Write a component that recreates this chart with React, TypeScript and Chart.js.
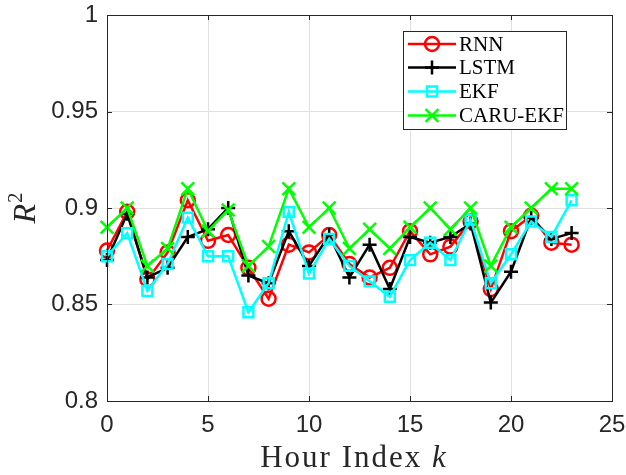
import React, { useEffect, useRef } from "react";
import { Chart, registerables } from "chart.js";

Chart.register(...registerables);

const hours = [0, 1, 2, 3, 4, 5, 6, 7, 8, 9, 10, 11, 12, 13, 14, 15, 16, 17, 18, 19, 20, 21, 22, 23];
const rnn = [0.878, 0.898, 0.863, 0.877, 0.904, 0.883, 0.886, 0.869, 0.853, 0.881, 0.877, 0.886, 0.871, 0.864, 0.869, 0.888, 0.876, 0.880, 0.893, 0.858, 0.888, 0.896, 0.882, 0.881];
const lstm = [0.873, 0.897, 0.864, 0.869, 0.885, 0.889, 0.900, 0.865, 0.861, 0.888, 0.870, 0.886, 0.864, 0.881, 0.858, 0.885, 0.882, 0.885, 0.892, 0.851, 0.867, 0.895, 0.884, 0.887];
const ekf = [0.875, 0.887, 0.857, 0.871, 0.895, 0.875, 0.875, 0.846, 0.861, 0.898, 0.866, 0.884, 0.870, 0.862, 0.854, 0.873, 0.882, 0.873, 0.894, 0.861, 0.876, 0.893, 0.885, 0.904];
const caru = [0.890, 0.900, 0.870, 0.879, 0.910, 0.888, 0.899, 0.870, 0.880, 0.910, 0.890, 0.900, 0.879, 0.889, 0.879, 0.890, 0.900, 0.889, 0.900, 0.870, 0.890, 0.900, 0.910, 0.910];

const seriesNames = ["RNN", "LSTM", "EKF", "CARU-EKF"];
const seriesColors = ["#ff0000", "#000000", "#00ffff", "#00ff00"];
const seriesStyles = ["circle", "cross", "rect", "crossRot"];
const seriesRadius = [7, 7, 7, 9];
const seriesValues = [rnn, lstm, ekf, caru];

const xTitle = "Hour Index ";
const xTitleVar = "k";
const yTitle = "R";
const yTitleSup = "2";

const AXIS = "#262626";
const SERIF = "'Liberation Serif', 'Times New Roman', serif";

function drawMarker(ctx: CanvasRenderingContext2D, style: string, x: number, y: number, color: string) {
  ctx.save();
  ctx.strokeStyle = color;
  ctx.lineWidth = 2.5;
  ctx.beginPath();
  if (style === "circle") {
    ctx.arc(x, y, 7, 0, Math.PI * 2);
  } else if (style === "cross") {
    ctx.moveTo(x - 7, y);
    ctx.lineTo(x + 7, y);
    ctx.moveTo(x, y - 7);
    ctx.lineTo(x, y + 7);
  } else if (style === "rect") {
    ctx.rect(x - 5, y - 5, 10, 10);
  } else {
    const d = 6.4;
    ctx.moveTo(x - d, y - d);
    ctx.lineTo(x + d, y + d);
    ctx.moveTo(x + d, y - d);
    ctx.lineTo(x - d, y + d);
  }
  ctx.stroke();
  ctx.restore();
}

const decorPlugin = {
  id: "decor",
  afterDraw(chart: any) {
    const ctx: CanvasRenderingContext2D = chart.ctx;
    const a = chart.chartArea;
    const xs = chart.scales.x;
    const ys = chart.scales.y;
    ctx.save();
    // box
    ctx.strokeStyle = AXIS;
    ctx.lineWidth = 1;
    ctx.strokeRect(Math.round(a.left) + 0.5, Math.round(a.top) + 0.5, Math.round(a.right - a.left), Math.round(a.bottom - a.top));
    // inward ticks
    const tl = 5;
    ctx.beginPath();
    xs.ticks.forEach((t: any) => {
      const px = Math.round(xs.getPixelForValue(t.value)) + 0.5;
      ctx.moveTo(px, a.bottom);
      ctx.lineTo(px, a.bottom - tl);
      ctx.moveTo(px, a.top);
      ctx.lineTo(px, a.top + tl);
    });
    ys.ticks.forEach((t: any) => {
      const py = Math.round(ys.getPixelForValue(t.value)) + 0.5;
      ctx.moveTo(a.left, py);
      ctx.lineTo(a.left + tl, py);
      ctx.moveTo(a.right, py);
      ctx.lineTo(a.right - tl, py);
    });
    ctx.stroke();

    // legend
    const lx = 403.5, ly = 31.5, lw = 163, lh = 98;
    ctx.fillStyle = "#ffffff";
    ctx.fillRect(lx, ly, lw, lh);
    ctx.strokeStyle = AXIS;
    ctx.lineWidth = 1;
    ctx.strokeRect(lx, ly, lw, lh);
    const rowY = [44, 67.5, 91.5, 115.5];
    seriesNames.forEach((name, i) => {
      const y = rowY[i];
      ctx.strokeStyle = seriesColors[i];
      ctx.lineWidth = 2.5;
      ctx.beginPath();
      ctx.moveTo(408, y);
      ctx.lineTo(456, y);
      ctx.stroke();
      drawMarker(ctx, seriesStyles[i], 432, y, seriesColors[i]);
      ctx.fillStyle = "#000000";
      ctx.font = `21px ${SERIF}`;
      ctx.textAlign = "left";
      ctx.textBaseline = "middle";
      ctx.fillText(name, 459, y + 1);
    });

    // x title
    ctx.fillStyle = "#262626";
    ctx.textBaseline = "alphabetic";
    ctx.textAlign = "left";
    (ctx as any).letterSpacing = "2px";
    ctx.font = `31px ${SERIF}`;
    const w1 = ctx.measureText(xTitle).width;
    ctx.font = `italic 31px ${SERIF}`;
    const w2 = ctx.measureText(xTitleVar).width;
    const cx = 354;
    const start = cx - (w1 + w2) / 2;
    ctx.font = `31px ${SERIF}`;
    ctx.fillText(xTitle, start, 467);
    ctx.font = `italic 31px ${SERIF}`;
    ctx.fillText(xTitleVar, start + w1, 467);
    (ctx as any).letterSpacing = "0px";

    // y title
    ctx.translate(35, 208);
    ctx.rotate(-Math.PI / 2);
    ctx.font = `italic 32px ${SERIF}`;
    const rw = ctx.measureText(yTitle).width;
    ctx.font = `21px ${SERIF}`;
    const sw = ctx.measureText(yTitleSup).width;
    const s0 = -(rw + sw + 1) / 2;
    ctx.font = `italic 32px ${SERIF}`;
    ctx.fillText(yTitle, s0, 0);
    ctx.font = `21px ${SERIF}`;
    ctx.fillText(yTitleSup, s0 + rw + 1, -13);
    ctx.restore();
  },
};

export default function App() {
  const ref = useRef<HTMLCanvasElement | null>(null);
  useEffect(() => {
    if (!ref.current) return;
    const chart = new Chart(ref.current, {
      type: "line",
      data: {
        datasets: seriesValues.map((vals, i) => ({
          label: seriesNames[i],
          data: vals.map((v, j) => ({ x: hours[j], y: v })),
          borderColor: seriesColors[i],
          backgroundColor: "rgba(0,0,0,0)",
          borderWidth: 2.5,
          pointStyle: seriesStyles[i] as any,
          pointRadius: seriesRadius[i],
          pointBorderWidth: 2.5,
          pointBorderColor: seriesColors[i],
          pointBackgroundColor: "rgba(0,0,0,0)",
          tension: 0,
          clip: false as any,
          order: 4 - i,
        })),
      },
      options: {
        animation: false,
        responsive: false,
        maintainAspectRatio: false,
        layout: { padding: { top: 15, right: 14, left: 0, bottom: 0 } },
        plugins: { legend: { display: false }, tooltip: { enabled: false } },
        scales: {
          x: {
            type: "linear",
            min: 0,
            max: 25,
            afterFit: (s: any) => { s.height = 74; s.paddingLeft = 0; s.paddingRight = 0; },
            ticks: {
              stepSize: 5,
              color: AXIS,
              padding: 10,
              font: { family: "'Liberation Sans', Arial, sans-serif", size: 24 },
            },
            grid: { color: "#e0e0e0", drawTicks: false },
            border: { display: false },
          },
          y: {
            type: "linear",
            min: 0.8,
            max: 1,
            afterFit: (s: any) => { s.width = 107; s.paddingTop = 0; s.paddingBottom = 0; },
            ticks: {
              stepSize: 0.05,
              color: AXIS,
              padding: 9,
              font: { family: "'Liberation Sans', Arial, sans-serif", size: 24 },
              callback: (v: any) => String(Number(Number(v).toFixed(2))),
            },
            grid: { color: "#e0e0e0", drawTicks: false },
            border: { display: false },
          },
        },
      },
      plugins: [decorPlugin],
    });
    return () => chart.destroy();
  }, []);
  return (
    <div style={{ position: "fixed", left: 0, top: 0, width: 626, height: 475, background: "#ffffff" }}>
      <canvas ref={ref} width={626} height={475} style={{ width: 626, height: 475, display: "block" }} />
    </div>
  );
}
